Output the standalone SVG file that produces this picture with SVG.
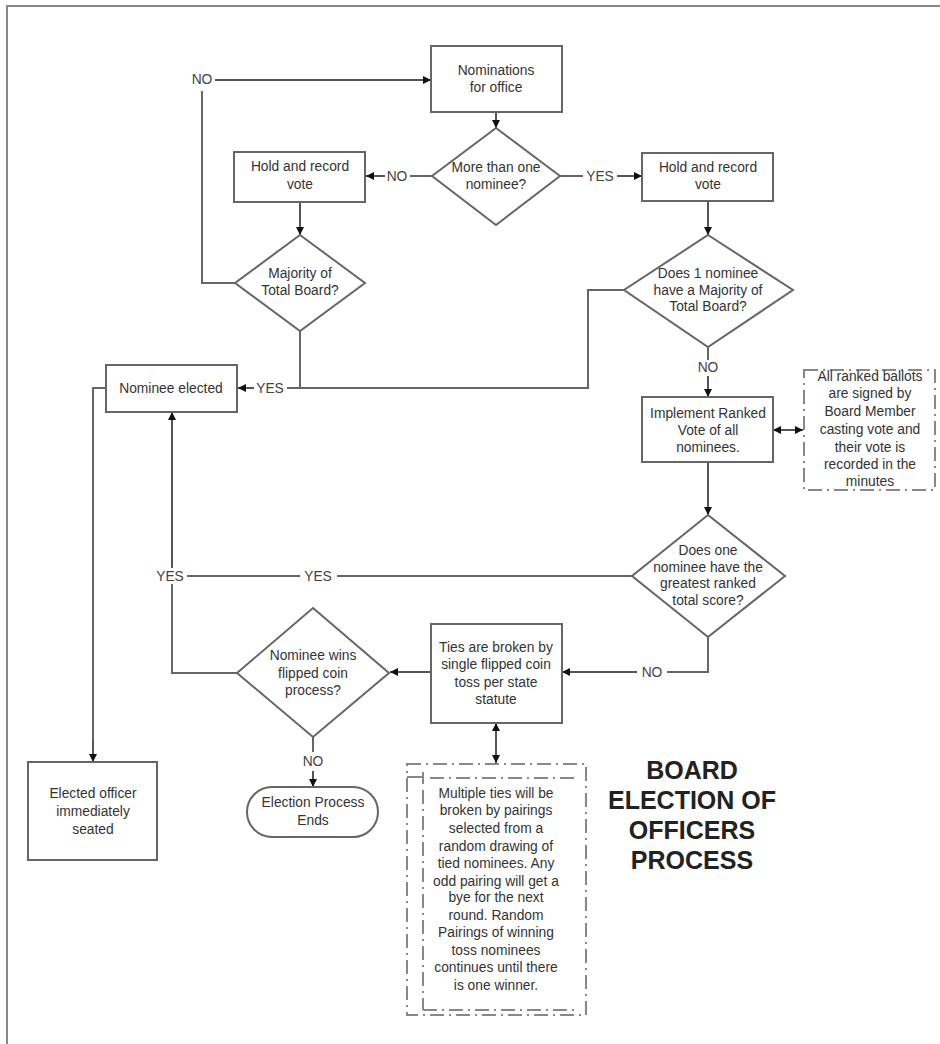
<svg xmlns="http://www.w3.org/2000/svg" width="940" height="1044" viewBox="0 0 940 1044">
<defs>
<marker id="ah" viewBox="0 0 10 10" refX="10" refY="5" markerWidth="9" markerHeight="8" markerUnits="userSpaceOnUse" orient="auto-start-reverse">
<path d="M0,0 L10,5 L0,10 z" fill="#111"/>
</marker>
<style>
.sh{fill:#fff;stroke:#666;stroke-width:2}
.cn{fill:none;stroke:#666;stroke-width:2}
.ar{fill:none;stroke:#555;stroke-width:2;marker-end:url(#ah)}
.da{fill:none;stroke:#888;stroke-width:2;stroke-dasharray:14 5 2 5}
.t{font-family:"Liberation Sans",Arial,sans-serif;font-size:13.8px;fill:#333;text-anchor:middle}
.lb{font-family:"Liberation Sans",Arial,sans-serif;font-size:13.8px;fill:#444;text-anchor:middle;dominant-baseline:middle}
.ti{font-family:"Liberation Sans",Arial,sans-serif;font-size:25px;font-weight:bold;fill:#222;text-anchor:middle}
</style>
</defs>
<rect width="940" height="1044" fill="#fff"/>
<path d="M7,1044 V6 H940" fill="none" stroke="#888" stroke-width="2"/>

<g id="connectors">
<path class="ar" d="M496,112 V128"/>
<path class="cn" d="M432,176 H410"/>
<path class="ar" d="M385,176 H366"/>
<path class="ar" d="M300,202 V235"/>
<path class="cn" d="M235,283 H202 V91"/>
<path class="ar" d="M215,80 H431"/>
<path class="cn" d="M560,176 H583"/>
<path class="ar" d="M617,176 H642"/>
<path class="ar" d="M708,201 V235"/>
<path class="cn" d="M624,290 H588 V388 H287"/>
<path class="cn" d="M300,331 V388"/>
<path class="ar" d="M254,388 H238"/>
<path class="cn" d="M708,347 V360"/>
<path class="ar" d="M708,376 V397"/>
<path class="ar" d="M773,430 H803" style="marker-start:url(#ah)"/>
<path class="ar" d="M708,462 V515"/>
<path class="cn" d="M632,576 H337"/>
<path class="cn" d="M300,576 H187"/>
<path class="cn" d="M237,673 H172 V584"/>
<path class="ar" d="M172,568 V412"/>
<path class="cn" d="M106,388 H93 V761"/>
<path class="ar" d="M93,740 V762"/>
<path class="cn" d="M708,637 V672 H667"/>
<path class="ar" d="M637,672 H562"/>
<path class="ar" d="M431,672 H390"/>
<path class="cn" d="M313,737 V752"/>
<path class="ar" d="M313,771 V787"/>
<path class="ar" d="M496,723 V763" style="marker-start:url(#ah)"/>
</g>

<g id="lbl-no1"><text class="lb" x="202" y="80">NO</text></g>
<g id="lbl-no2"><text class="lb" x="397" y="177">NO</text></g>
<g id="lbl-yes1"><text class="lb" x="600" y="177">YES</text></g>
<g id="lbl-yes2"><text class="lb" x="270" y="389">YES</text></g>
<g id="lbl-no3"><text class="lb" x="708" y="368">NO</text></g>
<g id="lbl-yes3"><text class="lb" x="318" y="577">YES</text></g>
<g id="lbl-yes4"><text class="lb" x="170" y="577">YES</text></g>
<g id="lbl-no4"><text class="lb" x="652" y="673">NO</text></g>
<g id="lbl-no5"><text class="lb" x="313" y="762">NO</text></g>

<g id="nominations">
<rect class="sh" x="431" y="46" width="131" height="66"/>
<text class="t" x="496" y="75">Nominations</text>
<text class="t" x="496" y="92">for office</text>
</g>
<g id="more-than-one">
<path class="sh" d="M496,128 L560,176 L496,225 L432,176 Z"/>
<text class="t" x="496" y="172">More than one</text>
<text class="t" x="496" y="189">nominee?</text>
</g>
<g id="hold-left">
<rect class="sh" x="234" y="152" width="131" height="50"/>
<text class="t" x="300" y="171">Hold and record</text>
<text class="t" x="300" y="189">vote</text>
</g>
<g id="majority-left">
<path class="sh" d="M300,235 L365,283 L300,331 L235,283 Z"/>
<text class="t" x="300" y="278">Majority of</text>
<text class="t" x="300" y="295">Total Board?</text>
</g>
<g id="hold-right">
<rect class="sh" x="642" y="153" width="131" height="48"/>
<text class="t" x="708" y="172">Hold and record</text>
<text class="t" x="708" y="189">vote</text>
</g>
<g id="majority-right">
<path class="sh" d="M708,235 L793,290 L708,347 L624,290 Z"/>
<text class="t" x="708" y="278">Does 1 nominee</text>
<text class="t" x="708" y="295">have a Majority of</text>
<text class="t" x="708" y="311">Total Board?</text>
</g>
<g id="nominee-elected">
<rect class="sh" x="106" y="365" width="131" height="47"/>
<text class="t" x="171" y="393">Nominee elected</text>
</g>
<g id="implement">
<rect class="sh" x="642" y="397" width="131" height="65"/>
<text class="t" x="708" y="418">Implement Ranked</text>
<text class="t" x="708" y="435">Vote of all</text>
<text class="t" x="708" y="452">nominees.</text>
</g>
<g id="ballots-note">
<rect class="da" x="804" y="370" width="131" height="120"/>
<text class="t" x="870" y="381">All ranked ballots</text>
<text class="t" x="870" y="398">are signed by</text>
<text class="t" x="870" y="416">Board Member</text>
<text class="t" x="870" y="434">casting vote and</text>
<text class="t" x="870" y="452">their vote is</text>
<text class="t" x="870" y="469">recorded in the</text>
<text class="t" x="870" y="486">minutes</text>
</g>
<g id="greatest">
<path class="sh" d="M708,515 L785,576 L708,637 L632,576 Z"/>
<text class="t" x="708" y="555">Does  one</text>
<text class="t" x="708" y="572">nominee have the</text>
<text class="t" x="708" y="588">greatest ranked</text>
<text class="t" x="708" y="605">total score?</text>
</g>
<g id="ties">
<rect class="sh" x="431" y="624" width="131" height="99"/>
<text class="t" x="496" y="652">Ties are broken by</text>
<text class="t" x="496" y="669">single flipped coin</text>
<text class="t" x="496" y="687">toss per state</text>
<text class="t" x="496" y="704">statute</text>
</g>
<g id="coin">
<path class="sh" d="M313,608 L389,673 L313,737 L237,673 Z"/>
<text class="t" x="313" y="660">Nominee wins</text>
<text class="t" x="313" y="678">flipped coin</text>
<text class="t" x="313" y="695">process?</text>
</g>
<g id="ends">
<rect class="sh" x="247" y="787" width="131" height="50" rx="25" ry="25"/>
<text class="t" x="313" y="807">Election Process</text>
<text class="t" x="313" y="825">Ends</text>
</g>
<g id="seated">
<rect class="sh" x="28" y="762" width="129" height="98"/>
<text class="t" x="93" y="798">Elected officer</text>
<text class="t" x="93" y="816">immediately</text>
<text class="t" x="93" y="834">seated</text>
</g>
<g id="ties-note">
<rect class="da" x="407" y="764" width="179" height="251"/>
<path class="da" d="M430,778 H578 M423,790 V1010 M423,1010 H575"/>
<path d="M407,777 H423 M423,772 V784" fill="none" stroke="#888" stroke-width="2"/>
<text class="t" x="496" y="798">Multiple ties will be</text>
<text class="t" x="496" y="815">broken by pairings</text>
<text class="t" x="496" y="833">selected from a</text>
<text class="t" x="496" y="851">random drawing of</text>
<text class="t" x="496" y="868">tied nominees. Any</text>
<text class="t" x="496" y="886">odd pairing will get a</text>
<text class="t" x="496" y="902">bye for the next</text>
<text class="t" x="496" y="920">round. Random</text>
<text class="t" x="496" y="937">Pairings of winning</text>
<text class="t" x="496" y="955">toss nominees</text>
<text class="t" x="496" y="972">continues until there</text>
<text class="t" x="496" y="990">is one winner.</text>
</g>
<g id="title">
<text class="ti" x="692" y="779">BOARD</text>
<text class="ti" x="692" y="809">ELECTION OF</text>
<text class="ti" x="692" y="839">OFFICERS</text>
<text class="ti" x="692" y="869">PROCESS</text>
</g>
</svg>
